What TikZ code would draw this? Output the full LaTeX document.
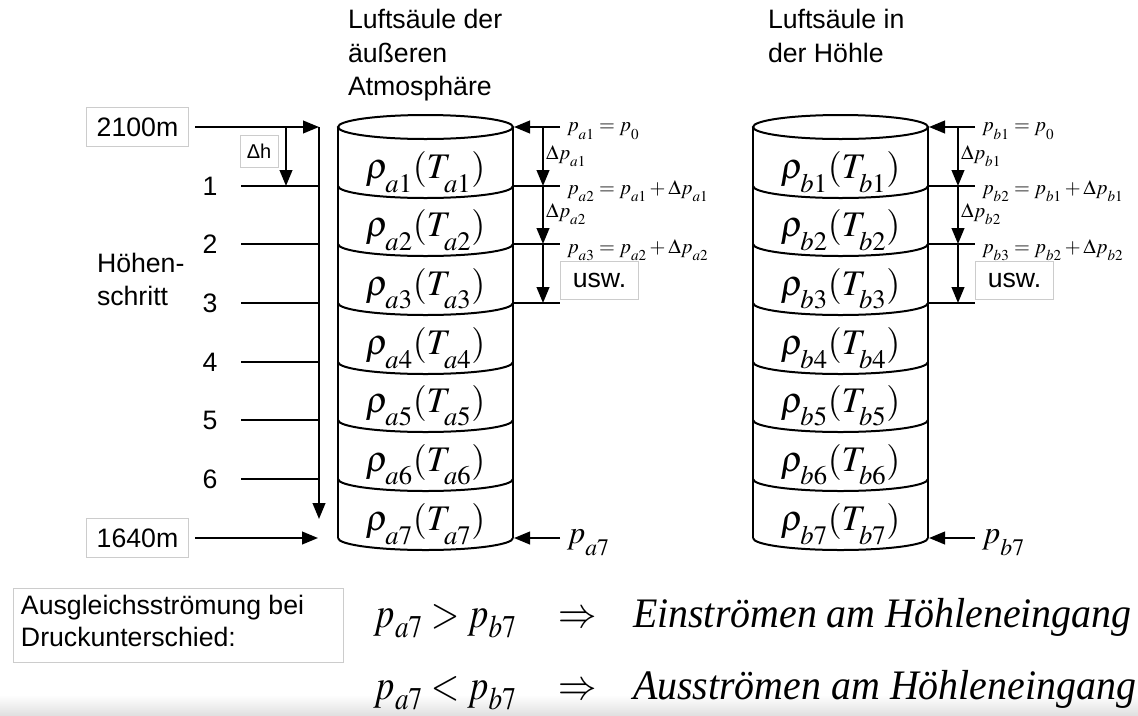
\documentclass[tikz,border=0pt]{standalone}
\usepackage{mathptmx}
\usepackage[no-math]{fontspec}
\setmainfont{Liberation Sans}
\newfontfamily\serifit{Liberation Serif}
\usetikzlibrary{arrows.meta}
\newcommand\dsb[1]{_{\lower0.22em\hbox{$\scriptstyle #1$}}}
\newcommand\bsb[1]{_{\lower0.1em\hbox{$\scriptstyle #1$}}}
\begin{document}
\begin{tikzpicture}[x=0.75pt,y=-0.75pt,line width=1.5pt,
  txt/.style={font=\fontsize{20pt}{24pt}\selectfont, inner sep=0pt},
  gbox/.style={draw=black!20, line width=0.7pt, inner sep=0pt},
  arr/.style={-{Triangle[length=12pt,width=9.5pt]}},
  cylm/.style={font=\fontsize{27pt}{30pt}\selectfont, inner sep=0pt},
  pm/.style={font=\fontsize{24pt}{28pt}\selectfont, inner sep=0pt},
  smallm/.style={font=\fontsize{15.3pt}{18pt}\selectfont, inner sep=0pt, anchor=west},
  bigm/.style={font=\fontsize{32pt}{36pt}\selectfont, inner sep=0pt, anchor=base west},
]
\useasboundingbox (0,0) rectangle (1138,715);
\fill[white] (0,0) rectangle (1138,715);
\shade[top color=white, bottom color=black!12, draw=none] (0,695) rectangle (1138,715);

% titles
\node[txt,anchor=base west] (t1) at (347,28) {Luftsäule der};
\node[txt,anchor=base west] (t2) at (347,62) {äußeren};
\node[txt,anchor=base west] (t3) at (347,95) {Atmosphäre};
\node[txt,anchor=base west] (t4) at (767,28) {Luftsäule in};
\node[txt,anchor=base west] (t5) at (767,62) {der Höhle};

% columns
\foreach \c/\sh in {a/0,b/415}{
\begin{scope}[shift={(\sh,0)}]
  \coordinate (\c L0) at (338,127); \coordinate (\c R0) at (513,127);
  \coordinate (\c L7) at (338,538); \coordinate (\c R7) at (513,538);
  \draw (425.5,127) ellipse[x radius=65.625pt,y radius=9pt];
  \draw (\c L0) -- (\c L7);
  \draw (\c R0) -- (\c R7);
  \foreach \k in {1,...,7}{
    \pgfmathsetmacro\yk{round(127+58.7*\k)}
    \draw (338,\yk) arc[start angle=180,end angle=360,x radius=65.625pt,y radius=9pt];
    \node[cylm] (\c rho\k) at (425.5,\yk-14) {$\rho\dsb{\c\k}(T\dsb{\c\k})$};
  }
  % pressure steps
  \coordinate (\c P0s) at (560,127); \coordinate (\c P0e) at (514,127);
  \draw[arr] (\c P0s) -- (\c P0e);
  \coordinate (\c V0) at (543,127);
  \foreach \k in {1,2,3}{
    \pgfmathsetmacro\yk{round(127+58.7*\k)}
    \coordinate (\c V\k) at (543,\yk);
    \coordinate (\c TL\k) at (513,\yk);
    \coordinate (\c TR\k) at (560,\yk);
    \draw (\c TL\k) -- (\c TR\k);
  }
  \draw[arr] (\c V0) -- (\c V1);
  \draw[arr] (\c V1) -- (\c V2);
  \draw[arr] (\c V2) -- (\c V3);
  \node[smallm] (\c e1) at (566,131) {$p\dsb{\c1}=p\dsb{0}$};
  \node[smallm] (\c d1) at (545,156) {$\Delta p\dsb{\c1}$};
  \node[smallm] (\c e2) at (566,191) {$p\dsb{\c2}=p\dsb{\c1}+\Delta p\dsb{\c1}$};
  \node[smallm] (\c d2) at (545,214) {$\Delta p\dsb{\c2}$};
  \node[smallm] (\c e3) at (566,250) {$p\dsb{\c3}=p\dsb{\c2}+\Delta p\dsb{\c2}$};
  \node[gbox,txt,minimum width=59pt,minimum height=28pt] (\c usw) at (599.5,280.5) {usw.};
  % bottom pressure
  \coordinate (\c B0) at (560,538); \coordinate (\c B1) at (514,538);
  \draw[arr] (\c B0) -- (\c B1);
  \node[pm,anchor=west] (\c p7) at (566,543) {$p\dsb{\c7}$};
\end{scope}
}

% height axis
\coordinate (vtop) at (319,127);
\coordinate (vbot) at (319,519);
\draw[arr] (vtop) -- (vbot);
\foreach \k in {1,...,6}{
  \pgfmathsetmacro\yk{round(127+58.7*\k)}
  \coordinate (hl\k) at (241,\yk);
  \coordinate (hr\k) at (319,\yk);
  \draw (hl\k) -- (hr\k);
  \node[txt] (n\k) at (210,\yk) {\k};
}
\node[txt,anchor=base west] (hs1) at (96,272) {Höhen-};
\node[txt,anchor=base west] (hs2) at (96,305) {schritt};

\node[gbox,txt,minimum width=77pt,minimum height=29pt] (b2100) at (137.5,127) {2100m};
\draw[arr,shorten <=4.5pt] (b2100.east) -- (vtop);
\node[gbox,font=\fontsize{15pt}{18pt}\selectfont,minimum width=28.5pt,minimum height=24pt] (dh) at (259,151) {Δh};
\coordinate (dht) at (286,127);
\coordinate (dhb) at (286,186);
\draw[arr] (dht) -- (dhb);

\node[gbox,txt,minimum width=77pt,minimum height=29pt] (b1640) at (137.5,538) {1640m};
\coordinate (h1640) at (318,538);
\draw[arr,shorten <=4.5pt] (b1640.east) -- (h1640);

% bottom explanation
\node[gbox,minimum width=247.5pt,minimum height=55.5pt] (ausbox) at (178,625) {};
\node[txt,anchor=base west] (aus1) at (20,614) {Ausgleichsströmung bei};
\node[txt,anchor=base west] (aus2) at (20,646) {Druckunterschied:};

\node[bigm] (r1a) at (373,627) {\scalebox{0.86}[1]{$p\bsb{a7}>p\bsb{b7}$}};
\node[bigm] (r1b) at (557,627) {\scalebox{0.9}[1]{$\Rightarrow$}};
\node[bigm] (r1c) at (632,627) {\scalebox{0.95}[1]{\serifit\itshape\fontsize{31.5pt}{36pt}\selectfont Einströmen am Höhleneingang}};
\node[bigm] (r2a) at (373,699) {\scalebox{0.86}[1]{$p\bsb{a7}<p\bsb{b7}$}};
\node[bigm] (r2b) at (557,699) {\scalebox{0.9}[1]{$\Rightarrow$}};
\node[bigm] (r2c) at (632,699) {\scalebox{0.95}[1]{\serifit\itshape\fontsize{31.5pt}{36pt}\selectfont Ausströmen am Höhleneingang}};
\end{tikzpicture}
\end{document}
